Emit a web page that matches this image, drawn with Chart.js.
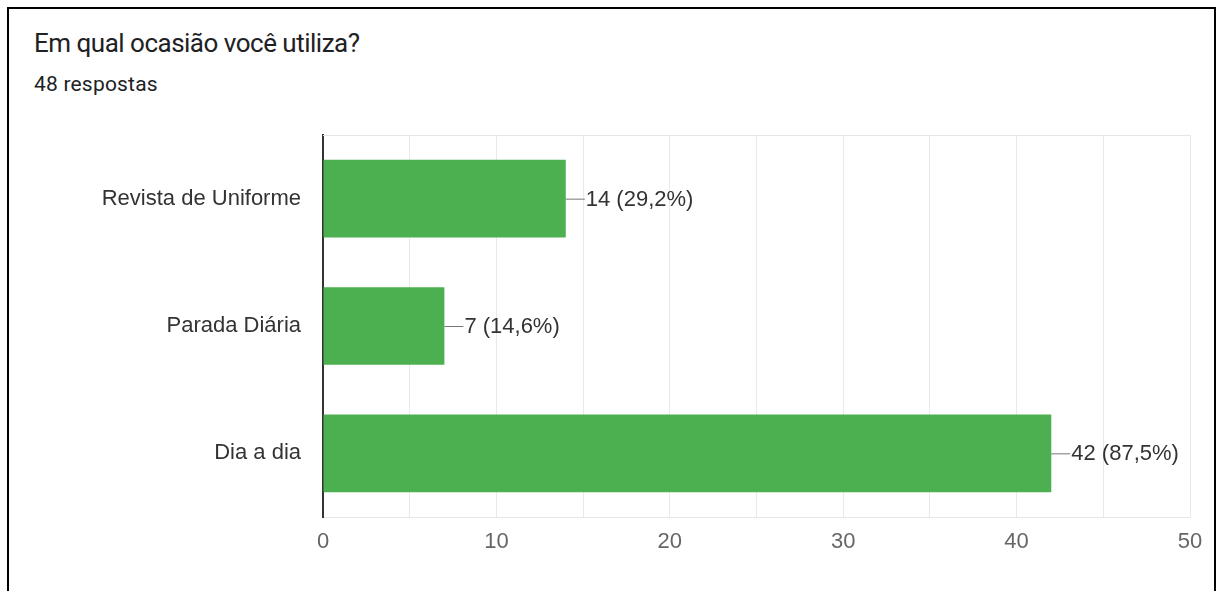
<!DOCTYPE html>
<html lang="pt-BR">
<head>
<meta charset="utf-8">
<script src="https://cdn.jsdelivr.net/npm/chart.js@4/dist/chart.umd.min.js"></script>
<style>
  html, body { margin: 0; padding: 0; background: #fff; }
  body { width: 1216px; height: 591px; position: relative; overflow: hidden; }
  .moldura { position: absolute; left: 7px; top: 7px; width: 1209px; height: 600px; border: 2px solid #000; box-sizing: border-box; }
  .titulo { position: absolute; left: 34px; top: 28px; font: 26px Roboto, sans-serif; letter-spacing: -0.5px; color: #202124; }
  .sub { position: absolute; left: 34px; top: 72px; font: 21px Roboto, sans-serif; letter-spacing: 0.2px; color: #202124; }
  canvas { position: absolute; left: 0; top: 0; }
</style>
</head>
<body>
<div class="moldura"></div>
<div class="titulo">Em qual ocasião você utiliza?</div>
<div class="sub">48 respostas</div>
<canvas id="grafico" width="1216" height="591"></canvas>
<script>
let categorias = ["Revista de Uniforme", "Parada Diária", "Dia a dia"];
let respostas  = [14, 7, 42];
let totalRespostas = 48;
let ticksX = [0, 10, 20, 30, 40, 50];

let fonte = "'Liberation Sans', Arial, sans-serif";

// rótulo "—14 (29,2%)" no fim de cada barra
let rotulos = {
  id: 'rotulos',
  afterDatasetsDraw(chart) {
    let ctx = chart.ctx;
    let meta = chart.getDatasetMeta(0);
    ctx.save();
    ctx.font = '22px ' + fonte;
    ctx.textBaseline = 'middle';
    ctx.textAlign = 'left';
    meta.data.forEach((bar, i) => {
      let pct = (respostas[i] / totalRespostas * 100).toFixed(1).replace('.', ',');
      ctx.strokeStyle = '#777';
      ctx.lineWidth = 1;
      ctx.beginPath();
      ctx.moveTo(bar.x, bar.y + 0.5);
      ctx.lineTo(bar.x + 19, bar.y + 0.5);
      ctx.stroke();
      ctx.fillStyle = '#333';
      ctx.fillText(`${respostas[i]} (${pct}%)`, bar.x + 20, bar.y + 1);
    });
    ctx.restore();
  }
};

// linha superior do quadro
let linhaTopo = {
  id: 'linhaTopo',
  beforeDatasetsDraw(chart) {
    let a = chart.chartArea;
    let ctx = chart.ctx;
    ctx.save();
    ctx.strokeStyle = '#e6e6e6';
    ctx.lineWidth = 1;
    ctx.beginPath();
    ctx.moveTo(a.left, a.top + 0.5);
    ctx.lineTo(a.right, a.top + 0.5);
    ctx.stroke();
    ctx.restore();
  }
};

let ctx = document.getElementById('grafico').getContext('2d');

new Chart(ctx, {
  type: 'bar',
  data: {
    labels: categorias,
    datasets: [{
      data: respostas,
      backgroundColor: '#4caf50',
      borderWidth: 0,
      barPercentage: 0.61,
      categoryPercentage: 1
    }]
  },
  plugins: [linhaTopo, rotulos],
  options: {
    indexAxis: 'y',
    responsive: false,
    animation: false,
    layout: { padding: { top: 135, right: 26, left: 0, bottom: 0 } },
    plugins: {
      legend: { display: false },
      tooltip: { enabled: false }
    },
    scales: {
      x: {
        min: 0,
        max: 50,
        afterFit: (axis) => { axis.height = 74; },
        afterBuildTicks: (axis) => {
          let t = [];
          for (let v = 0; v <= 50; v += 5) t.push({ value: v });
          axis.ticks = t;
        },
        grid: { color: '#e9e9e9', drawTicks: false },
        border: { color: '#e6e6e6', width: 1 },
        ticks: {
          padding: 12,
          autoSkip: false,
          maxRotation: 0,
          color: '#666',
          font: { family: fonte, size: 22 },
          callback: (v) => ticksX.includes(v) ? String(v) : ''
        }
      },
      y: {
        afterFit: (axis) => { axis.width = 323; },
        grid: { display: false, drawTicks: false },
        border: { display: true, color: '#333', width: 2 },
        ticks: {
          padding: 22,
          color: '#333',
          font: { family: fonte, size: 22 }
        }
      }
    }
  }
});
</script>
</body>
</html>
